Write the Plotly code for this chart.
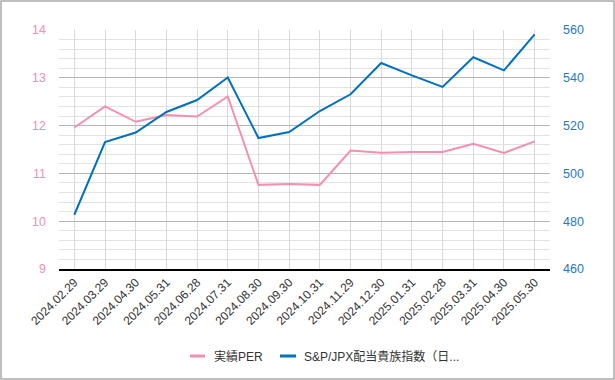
import plotly.graph_objects as go

dates = ["2024.02.29", "2024.03.29", "2024.04.30", "2024.05.31", "2024.06.28",
         "2024.07.31", "2024.08.30", "2024.09.30", "2024.10.31", "2024.11.29",
         "2024.12.30", "2025.01.31", "2025.02.28", "2025.03.31", "2025.04.30",
         "2025.05.30"]
per = [11.96, 12.40, 12.08, 12.22, 12.19, 12.61, 10.76, 10.78, 10.76, 11.48,
       11.43, 11.45, 11.45, 11.62, 11.43, 11.67]
index_vals = [482.7, 513.1, 517.1, 525.7, 530.7, 540.1, 514.8, 517.3, 526.1,
              533.1, 546.2, 541.0, 536.2, 548.6, 543.1, 558.2]
name_per = "実績PER"
name_idx = "S&P/JPX配当貴族指数（日..."

PINK = "#f48fb1"
BLUE = "#0070c0"
FONT = "Liberation Sans, Noto Sans CJK JP, sans-serif"

L, R, T, B = 59, 65, 30, 111
PW, PH = 615 - L - R, 380 - T - B


def px(x):
    return (x - L) / PW


def py(y):
    return (380 - B - y) / PH


fig = go.Figure()
fig.add_trace(go.Scatter(x=dates, y=per, name=name_per, mode="lines",
                         line=dict(color=PINK, width=2), yaxis="y"))
fig.add_trace(go.Scatter(x=dates, y=index_vals, name=name_idx, mode="lines",
                         line=dict(color=BLUE, width=2), yaxis="y2"))

fig.update_layout(
    width=615, height=380,
    margin=dict(l=L, r=R, t=T, b=B, autoexpand=False),
    paper_bgcolor="white", plot_bgcolor="white",
    font=dict(family=FONT, size=12, color="#333333"),
    showlegend=False,
    xaxis=dict(type="category", range=[-0.5, len(dates) - 0.5], automargin=False,
               tickangle=-45, showgrid=True, gridcolor="#d9d9d9", gridwidth=1,
               showline=True, linecolor="black", linewidth=1.5,
               ticks="", tickfont=dict(size=12, color="#333333"), zeroline=False),
    yaxis=dict(range=[9, 14], dtick=1, tick0=9, showgrid=True, gridcolor="#b5b5b5",
               gridwidth=1, zeroline=False, ticks="", automargin=False,
               ticklabelstandoff=12,
               tickfont=dict(size=12.5, color=PINK),
               minor=dict(dtick=0.2, tick0=9, showgrid=True, gridcolor="#e3e3e3")),
    yaxis2=dict(range=[460, 560], dtick=20, tick0=460, overlaying="y", side="right",
                showgrid=False, zeroline=False, ticks="", automargin=False,
                ticklabelstandoff=12,
                tickfont=dict(size=12.5, color="#1f78c8")),
)

# custom legend (line swatches + labels)
for (x0, x1, tx, col, label) in [(190, 205, 212, PINK, name_per),
                                  (280, 296, 302, BLUE, name_idx)]:
    fig.add_shape(type="line", xref="paper", yref="paper",
                  x0=px(x0), x1=px(x1), y0=py(356), y1=py(356),
                  line=dict(color=col, width=3))
    fig.add_annotation(xref="paper", yref="paper", x=px(tx), y=py(356),
                       xanchor="left", yanchor="middle", text=label,
                       showarrow=False, font=dict(size=12, color="#333333"))

# outer border around the whole chart
fig.add_shape(type="rect", xref="paper", yref="paper",
              x0=px(1), x1=px(614), y0=py(379), y1=py(1),
              line=dict(color="#aaaaaa", width=1.5), layer="below")

fig.write_html("out.html", config={"displayModeBar": False},
               post_script="document.body.style.margin='0';document.body.style.padding='0';")
